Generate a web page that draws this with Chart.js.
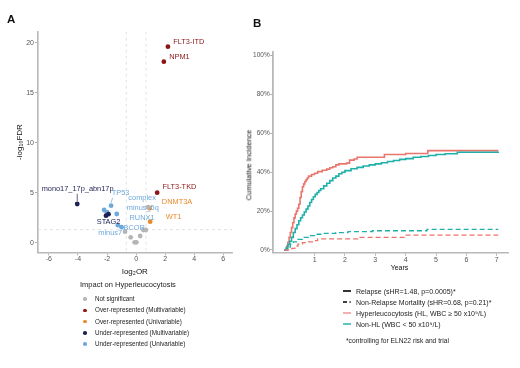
<!DOCTYPE html>
<html><head><meta charset="utf-8">
<script src="https://cdn.jsdelivr.net/npm/chart.js@4.4.1/dist/chart.umd.min.js"></script>
<style>
body{margin:0;background:#fff;}
#wrap{position:relative;width:520px;height:368px;overflow:hidden;background:#fff;font-family:'Liberation Sans',Arial,sans-serif;color:#222;}
canvas{position:absolute;top:0;}
.t{position:absolute;white-space:nowrap;transform:translateY(-50%);line-height:1;}
</style></head><body>
<div id="wrap">
<canvas id="cA" width="245" height="280" style="left:0"></canvas>
<canvas id="cB" width="280" height="280" style="left:240px"></canvas>
<div class="t" style="left:7px;top:20px;font-size:11.5px;font-weight:bold;color:#111">A</div>
<div class="t" style="left:253px;top:24px;font-size:11.5px;font-weight:bold;color:#111">B</div>
<div id="ytB" class="t" style="left:249px;top:165px;font-size:7.4px;color:#111;transform:translate(-50%,-50%) rotate(-90deg)">Cumulative Incidence</div>
<div id="xtB" class="t" style="left:399.5px;top:267px;font-size:7px;color:#111;transform:translate(-50%,-50%)">Years</div>
<div id="legA"></div>
<div id="legB"></div>
</div>
<script>
// ---------- Panel A data ----------
const groupNames = ['Not significant','Over-represented (Multivariable)','Over-represented (Univariable)','Under-represented (Multivariable)','Under-represented (Univariable)'];
const groupColors = ['#b5b5b5','#8c1616','#e8892b','#1d2152','#6fa8dc'];
const geneNames = ['FLT3-ITD','NPM1','FLT3-TKD','DNMT3A','WT1','mono17_17p_abn17p','STAG2','','TP53','minus_5q','RUNX1','complex','BCOR','minus7','','','','','','','',''];
const log2OR =      [2.19, 1.91, 1.45, 0.92, 0.97, -4.05, -2.07, -1.9, -1.72, -2.2, -2.0, -1.33, -1.0, -1.25, 0.83, -0.76, -0.37, -0.1, 0.02, 0.28, 0.5, 0.67];
const negLog10FDR = [19.6, 18.1, 5.0, 3.45, 2.1, 3.87, 2.7, 2.85, 3.7, 3.27, 3.05, 2.87, 1.55, 1.75, 3.55, 1.1, 0.54, 0.04, 0.04, 0.67, 1.27, 1.27];
const geneGroup =   [1, 1, 1, 2, 2, 3, 3, 3, 4, 4, 4, 4, 4, 4, 0, 0, 0, 0, 0, 0, 0, 0];
const xTicksA = [-6,-4,-2,0,2,4,6];
const yTicksA = [0,5,10,15,20];
const orThreshold = [-0.68, 0.68];
const fdrThreshold = 1.3;
// label offsets in px (dx, dy, connector)
const labelOffsets = {
  'FLT3-ITD':[5.3,-4.7,0],'NPM1':[5.3,-4.6,0],'FLT3-TKD':[5.3,-5.4,0],'DNMT3A':[12.4,-6.5,0],'WT1':[15.6,-5,0],
  'mono17_17p_abn17p':[-35.6,-14.7,1],'STAG2':[-9.3,6.6,0],'TP53':[0.6,-12.4,1],'minus_5q':[22.6,-1.7,0],
  'RUNX1':[22.5,5.6,0],'complex':[11.6,-16.3,0],'BCOR':[2,1.1,0],'minus7':[-19.6,7.5,0]
};

// ---------- Panel B data ----------
const tHLRel = [0,0.08,0.12,0.16,0.2,0.24,0.28,0.32,0.36,0.4,0.44,0.48,0.52,0.56,0.6,0.64,0.68,0.72,0.76,0.8,0.9,1.0,1.1,1.25,1.4,1.5,1.6,1.7,1.8,2.05,2.15,2.3,2.4,3.3,4.0,4.73,7.05];
const ciHLRel = [0,2,4,6.5,9,11.5,14,16.5,18.5,20,21.5,23.5,27,30,32.5,34,35.2,36.2,37,38,38.8,39.5,40.3,41,41.6,42.3,42.8,43.8,44.3,44.7,46.2,46.8,47.7,49.1,49.6,51.1,51.1];
const tNonRel = [0,0.06,0.12,0.18,0.24,0.3,0.36,0.42,0.48,0.54,0.6,0.66,0.72,0.78,0.84,0.9,0.96,1.02,1.08,1.14,1.2,1.3,1.4,1.5,1.6,1.7,1.8,1.9,2.0,2.2,2.4,2.6,2.8,3.0,3.2,3.4,3.6,3.8,4.0,4.25,4.5,4.75,5.0,5.3,5.7,7.05];
const ciNonRel = [0,1,2.8,4.5,6.5,9,11,13,15,16.6,18,19.5,21,22.6,24.4,26,27.4,28.6,29.6,30.6,31.5,33,34.3,35.7,37,38,39.2,40,40.8,41.8,42.5,43.2,43.8,44.3,44.9,45.5,46,46.6,47,47.7,48.1,48.6,49.1,49.5,50.3,50.6];
const tNonNRM = [0,0.1,0.2,0.3,0.45,0.6,0.8,1.0,1.3,1.7,2.1,2.9,4.7,7.05];
const ciNonNRM = [0,1.5,3,4.2,5.5,6.5,7.4,8.1,8.5,8.9,9.4,9.9,10.6,10.6];
const tHLNRM = [0,0.25,0.35,0.45,0.6,0.8,1.0,1.1,2.5,3.95,7.05];
const ciHLNRM = [0,0.8,2,3,3.8,4.2,4.8,5.7,6.5,7.6,7.6];
const xTicksB = [1,2,3,4,5,6,7];
const yTicksB = [0,20,40,60,80,100];
const legendBLabels = ['Relapse (sHR=1.48, p=0.0005)*','Non-Relapse Mortality (sHR=0.68, p=0.21)*','Hyperleucocytosis (HL, WBC \u2265 50 x10\u2079/L)','Non-HL (WBC < 50 x10\u2079/L)'];
const footnoteB = '*controlling for ELN22 risk and trial';

const FONT = "'Liberation Sans', Arial, sans-serif";
Chart.defaults.font.family = FONT;

// ---------- Panel A chart ----------
const refLines = {
  id:'refLines',
  beforeDatasetsDraw(chart){
    const {ctx, chartArea:a, scales:{x,y}} = chart;
    ctx.save();
    ctx.strokeStyle='#dcdcdc'; ctx.lineWidth=0.8; ctx.setLineDash([3,3]);
    orThreshold.forEach(v=>{const px=x.getPixelForValue(v); ctx.beginPath(); ctx.moveTo(px,a.top); ctx.lineTo(px,a.bottom); ctx.stroke();});
    const py=y.getPixelForValue(fdrThreshold);
    ctx.beginPath(); ctx.moveTo(a.left,py); ctx.lineTo(a.right,py); ctx.stroke();
    ctx.restore();
  }
};
const geneLabels = {
  id:'geneLabels',
  afterDatasetsDraw(chart){
    const {ctx, scales:{x,y}} = chart;
    ctx.save();
    ctx.font = "7.4px " + FONT;
    ctx.textAlign='left'; ctx.textBaseline='middle';
    geneNames.forEach((n,i)=>{
      if(!n) return;
      const o = labelOffsets[n] || [4,-4,0];
      const px = x.getPixelForValue(log2OR[i]), py = y.getPixelForValue(negLog10FDR[i]);
      const col = groupColors[geneGroup[i]];
      ctx.fillStyle = col;
      ctx.fillText(n, px+o[0], py+o[1]);
      if(o[2]){
        ctx.strokeStyle=col; ctx.lineWidth=0.7;
        ctx.beginPath(); ctx.moveTo(px, py-3); ctx.lineTo(px+ (o[0]>0?1.5:0), py+o[1]+4.5); ctx.stroke();
      }
    });
    ctx.restore();
  }
};
const dsA = groupNames.map((g,gi)=>({
  label:g,
  data: log2OR.map((v,i)=>({x:v,y:negLog10FDR[i],g:geneGroup[i]})).filter(p=>p.g===gi),
  backgroundColor: groupColors[gi], borderColor: groupColors[gi], borderWidth:0, pointRadius:2.4
}));
const axisCol = '#b8b8b8';
new Chart(document.getElementById('cA'), {
  type:'scatter',
  data:{datasets:dsA},
  options:{
    responsive:false, animation:false, events:[],
    layout:{padding:{top:31.7,right:13,left:0,bottom:0}},
    plugins:{legend:{display:false},tooltip:{enabled:false}},
    scales:{
      x:{type:'linear',min:-6.75,max:6.6,
        afterBuildTicks:s=>{s.ticks=xTicksA.map(v=>({value:v}));},
        afterFit:s=>{s.height=280-252.3;},
        ticks:{font:{size:7},color:'#555',padding:0,maxRotation:0,autoSkip:false},
        grid:{drawOnChartArea:false,drawTicks:true,tickLength:3,color:'#999',lineWidth:0.8},
        border:{display:true,color:axisCol,width:1.6},
        title:{display:true,text:'log\u2082OR',font:{size:8},color:'#111',padding:{top:0,bottom:3.2}}
      },
      y:{type:'linear',min:-0.96,max:21.1,
        afterBuildTicks:s=>{s.ticks=yTicksA.map(v=>({value:v}));},
        afterFit:s=>{s.width=38;},
        ticks:{font:{size:7},color:'#555',padding:1,autoSkip:false},
        grid:{drawOnChartArea:false,drawTicks:true,tickLength:3,color:'#999',lineWidth:0.8},
        border:{display:true,color:axisCol,width:1.6},
        title:{display:true,text:'-log\u2081\u2080FDR',font:{size:8},color:'#111',padding:{top:15.2,bottom:0}}
      }
    }
  },
  plugins:[refLines, geneLabels]
});

// legend A (HTML)
(function(){
  const el = document.getElementById('legA');
  let h = '<div class="t" style="left:80px;top:285px;font-size:7.5px;color:#222">Impact on Hyperleucocytosis</div>';
  groupNames.forEach((g,i)=>{
    const y = 299 + i*11.3;
    h += '<div style="position:absolute;left:83.2px;top:'+(y-1.8)+'px;width:3.6px;height:3.6px;border-radius:50%;background:'+groupColors[i]+'"></div>';
    h += '<div class="t" style="left:95px;top:'+y+'px;font-size:6.3px;color:#222">'+g+'</div>';
  });
  el.innerHTML = h;
})();

// ---------- Panel B chart ----------
const redCol = '#e9756c', tealCol = '#1fb0a9';
const mk = (t,c)=>t.map((v,i)=>({x:v,y:c[i]}));
new Chart(document.getElementById('cB'), {
  type:'line',
  data:{datasets:[
    {label:'HL NRM', data:mk(tHLNRM,ciHLNRM), borderColor:redCol, borderWidth:1.3, borderDash:[5,3], stepped:'before', pointRadius:0, fill:false},
    {label:'Non-HL NRM', data:mk(tNonNRM,ciNonNRM), borderColor:tealCol, borderWidth:1.3, borderDash:[5,3], stepped:'before', pointRadius:0, fill:false},
    {label:'Non-HL relapse', data:mk(tNonRel,ciNonRel), borderColor:tealCol, borderWidth:1.6, stepped:'before', pointRadius:0, fill:false},
    {label:'HL relapse', data:mk(tHLRel,ciHLRel), borderColor:redCol, borderWidth:1.6, stepped:'before', pointRadius:0, fill:false}
  ]},
  options:{
    responsive:false, animation:false, events:[],
    layout:{padding:{top:51.7,right:11.7,left:0,bottom:0}},
    plugins:{legend:{display:false},tooltip:{enabled:false}},
    scales:{
      x:{type:'linear',min:-0.38,max:7.38,
        afterBuildTicks:s=>{s.ticks=xTicksB.map(v=>({value:v}));},
        afterFit:s=>{s.height=280-252.7;},
        ticks:{font:{size:7},color:'#555',padding:0,maxRotation:0,autoSkip:false},
        grid:{drawOnChartArea:false,drawTicks:true,tickLength:3,color:'#999',lineWidth:0.8},
        border:{display:true,color:axisCol,width:1.6}
      },
      y:{type:'linear',min:-1.4,max:102,
        afterBuildTicks:s=>{s.ticks=yTicksB.map(v=>({value:v}));},
        afterFit:s=>{s.width=32.7;},
        ticks:{font:{size:6.5},color:'#555',padding:0.5,autoSkip:false,callback:v=>v+'%'},
        grid:{drawOnChartArea:false,drawTicks:true,tickLength:2.5,color:'#999',lineWidth:0.8},
        border:{display:true,color:axisCol,width:1.8}
      }
    }
  }
});

// legend B (HTML)
(function(){
  const el = document.getElementById('legB');
  const samples = [
    '<line x1="0" y1="3" x2="8" y2="3" stroke="#000" stroke-width="1.6"/>',
    '<line x1="0" y1="3" x2="9" y2="3" stroke="#000" stroke-width="1.6" stroke-dasharray="4,2.5,1.2,10"/>',
    '<line x1="0" y1="3" x2="8" y2="3" stroke="'+redCol+'" stroke-opacity="0.7" stroke-width="1.6"/>',
    '<line x1="0" y1="3" x2="8" y2="3" stroke="'+tealCol+'" stroke-opacity="0.9" stroke-width="1.6"/>'
  ];
  let h='';
  legendBLabels.forEach((l,i)=>{
    const y = 290.7 + i*11.2;
    h += '<svg style="position:absolute;left:342.7px;top:'+(y-3)+'px" width="10" height="6">'+samples[i]+'</svg>';
    h += '<div class="t" style="left:356px;top:'+y+'px;font-size:7px;color:#222">'+l.replace('<','&lt;')+'</div>';
  });
  h += '<div class="t" style="left:346px;top:340.7px;font-size:6.7px;color:#222">'+footnoteB+'</div>';
  el.innerHTML = h;
})();
</script>
</body></html>
